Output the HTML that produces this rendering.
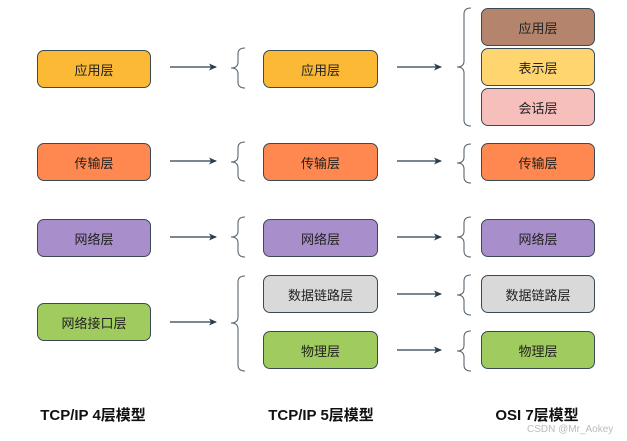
<!DOCTYPE html>
<html><head><meta charset="utf-8"><style>
body{margin:0;width:627px;height:441px;background:#fff;position:relative;overflow:hidden;font-family:"Liberation Sans","Noto Sans CJK SC",sans-serif}
.b{position:absolute;box-sizing:border-box;border:1px solid #3a4a55;border-radius:7px;display:flex;align-items:center;justify-content:center;font-size:13px;color:#222}
.l{position:absolute;font-weight:bold;font-size:15px;color:#111;top:404px;transform:translateX(-50%);white-space:nowrap}
</style></head><body>
<div class="b" style="left:37px;top:50px;width:114px;height:38px;background:#fbb935">应用层</div>
<div class="b" style="left:37px;top:143px;width:114px;height:38px;background:#fe884f">传输层</div>
<div class="b" style="left:37px;top:219px;width:114px;height:38px;background:#a88ecb">网络层</div>
<div class="b" style="left:37px;top:303px;width:114px;height:38px;background:#a0cb5e">网络接口层</div>

<div class="b" style="left:263px;top:50px;width:115px;height:38px;background:#fbb935">应用层</div>
<div class="b" style="left:263px;top:143px;width:115px;height:38px;background:#fe884f">传输层</div>
<div class="b" style="left:263px;top:219px;width:115px;height:38px;background:#a88ecb">网络层</div>
<div class="b" style="left:263px;top:275px;width:115px;height:38px;background:#d9d9d9">数据链路层</div>
<div class="b" style="left:263px;top:331px;width:115px;height:38px;background:#a0cb5e">物理层</div>

<div class="b" style="left:481px;top:8px;width:114px;height:38px;background:#b4856c">应用层</div>
<div class="b" style="left:481px;top:48px;width:114px;height:38px;background:#fed56f">表示层</div>
<div class="b" style="left:481px;top:88px;width:114px;height:38px;background:#f6bfbc">会话层</div>
<div class="b" style="left:481px;top:143px;width:114px;height:38px;background:#fe884f">传输层</div>
<div class="b" style="left:481px;top:219px;width:114px;height:38px;background:#a88ecb">网络层</div>
<div class="b" style="left:481px;top:275px;width:114px;height:38px;background:#d9d9d9">数据链路层</div>
<div class="b" style="left:481px;top:331px;width:114px;height:38px;background:#a0cb5e">物理层</div>

<svg width="627" height="441" style="position:absolute;left:0;top:0" fill="none">
<defs><marker id="a" markerWidth="8" markerHeight="8" refX="7" refY="4" orient="auto" markerUnits="userSpaceOnUse"><path d="M0,0.5 L8,4 L0,7.5 L2,4Z" fill="#2d3e4a"/></marker></defs>
<g stroke="#2d3e4a" stroke-width="1.3" marker-end="url(#a)">
<line x1="170" y1="67" x2="216" y2="67"/><line x1="397" y1="67" x2="441" y2="67"/>
<line x1="170" y1="161" x2="216" y2="161"/><line x1="397" y1="161" x2="441" y2="161"/>
<line x1="170" y1="237" x2="216" y2="237"/><line x1="397" y1="237" x2="441" y2="237"/>
<line x1="170" y1="322" x2="216" y2="322"/><line x1="397" y1="294" x2="441" y2="294"/>
<line x1="397" y1="350" x2="441" y2="350"/>
</g>
<g stroke="#5a6670" stroke-width="1.1">
<path d="M245,48 Q238,48 238,54 L238,62 Q238,68 231,68 Q238,68 238,74 L238,82 Q238,88 245,88"/>
<path d="M245,142 Q238,142 238,148 L238,156 Q238,162 231,162 Q238,162 238,168 L238,175 Q238,181 245,181"/>
<path d="M245,217 Q238,217 238,223 L238,231 Q238,237 231,237 Q238,237 238,243 L238,251 Q238,257 245,257"/>
<path d="M245,276 Q238,276 238,282 L238,317 Q238,323 231,323 Q238,323 238,329 L238,365 Q238,371 245,371"/>
<path d="M471,8 Q464,8 464,14 L464,61 Q464,67 457,67 Q464,67 464,73 L464,120 Q464,126 471,126"/>
<path d="M471,144 Q464,144 464,150 L464,157 Q464,163 457,163 Q464,163 464,169 L464,177 Q464,183 471,183"/>
<path d="M471,217 Q464,217 464,223 L464,231 Q464,237 457,237 Q464,237 464,243 L464,251 Q464,257 471,257"/>
<path d="M471,275 Q464,275 464,281 L464,289 Q464,295 457,295 Q464,295 464,301 L464,309 Q464,315 471,315"/>
<path d="M471,331 Q464,331 464,337 L464,345 Q464,351 457,351 Q464,351 464,357 L464,365 Q464,371 471,371"/>
</g></svg>
<div class="l" style="left:93px">TCP/IP 4层模型</div>
<div class="l" style="left:321px">TCP/IP 5层模型</div>
<div class="l" style="left:537px">OSI 7层模型</div>
<div style="position:absolute;left:527px;top:424px;font-size:10px;color:#bbb">CSDN @Mr_Aokey</div>
</body></html>
